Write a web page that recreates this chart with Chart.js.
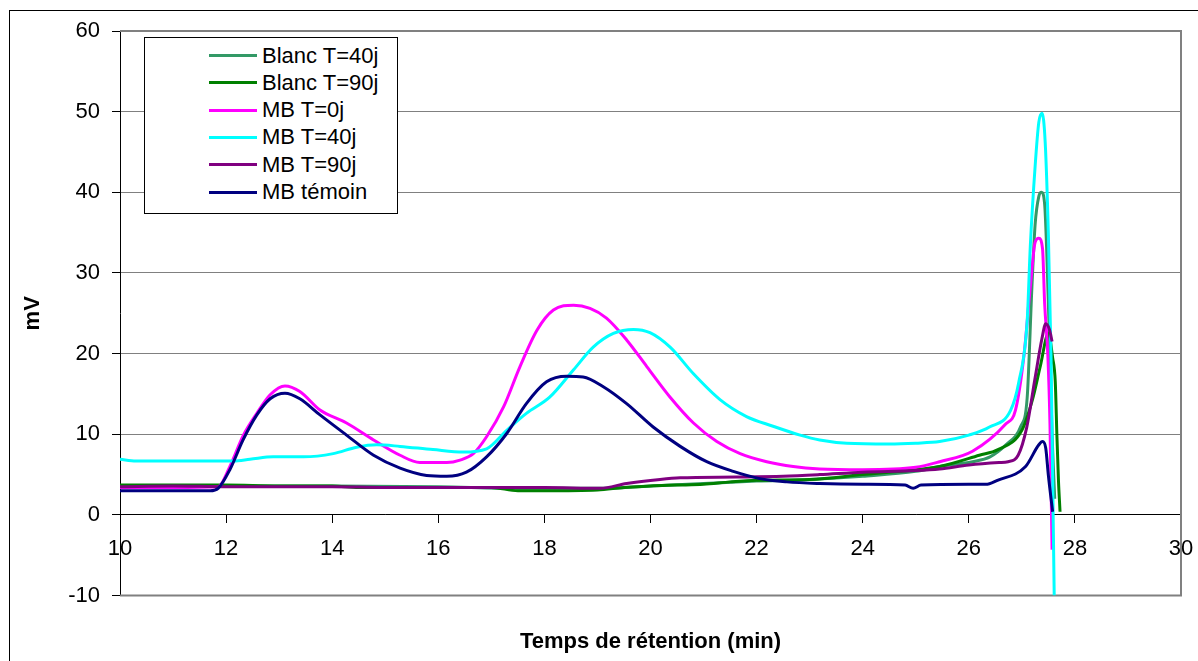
<!DOCTYPE html>
<html>
<head>
<meta charset="utf-8">
<script src="https://cdn.jsdelivr.net/npm/chart.js@4"></script>
<style>
  body { margin: 0; background: #fff; font-family: "Liberation Sans", Arial, sans-serif; }
  #cadre { position: absolute; left: 9px; top: 10px; width: 1189px; height: 651px;
           border-left: 1px solid #000; border-top: 1px solid #000; }
  #zone { position: absolute; left: 0; top: 0; width: 1188px; height: 650px; }
  #legende { position: absolute; left: 134px; top: 26px; width: 252px; height: 175px;
             border: 1px solid #000; background: #fff; }
  .ligne { position: absolute; left: 64px; width: 48px; height: 3px; }
  .texte { position: absolute; left: 117px; font-size: 22px; line-height: 26px; color: #000; white-space: nowrap; }
</style>
</head>
<body>
<div id="cadre">
  <div id="zone"><canvas id="chromato"></canvas></div>
  <div id="legende"></div>
</div>
<script>
// Chromatogrammes : temps de rétention (min) / signal (mV)
const noms = ['Blanc T=40j', 'Blanc T=90j', 'MB T=0j', 'MB T=40j', 'MB T=90j', 'MB témoin'];
const couleurs = ['#339966', '#008000', '#ff00ff', '#00ffff', '#800080', '#000080'];

const blanc40X = [10, 12, 14, 16, 17.5, 19, 20, 21, 22, 23, 24, 25, 25.45, 26.07, 26.4, 26.7, 26.98, 27.1, 27.19, 27.25, 27.32, 27.37, 27.43, 27.47, 27.52, 27.57, 27.62];
const blanc40Y = [3.6, 3.6, 3.6, 3.5, 3.3, 3.3, 3.6, 3.9, 4.2, 4.4, 4.8, 5.4, 6.0, 6.6, 7.2, 8.7, 11.0, 14.5, 28.3, 36, 39.5, 40, 38.5, 32.5, 22, 10, 2];

const blanc90X = [10, 11, 12, 13, 14, 14.5, 15, 16, 17, 17.5, 18, 19, 19.5, 20, 20.5, 21, 21.5, 22, 23, 24, 25, 25.45, 26.2, 26.55, 27.0, 27.2, 27.35, 27.5, 27.58, 27.63, 27.66, 27.69, 27.72];
const blanc90Y = [3.7, 3.7, 3.7, 3.6, 3.6, 3.4, 3.4, 3.4, 3.4, 3.0, 3.0, 3.1, 3.4, 3.6, 3.7, 3.8, 4.1, 4.3, 4.4, 5.0, 5.6, 6.0, 7.4, 8.1, 10.5, 14.3, 18.5, 22.5, 19.5, 16.5, 10, 4.3, 0.4];

const mb0X = [10, 11, 11.85, 12.07, 12.32, 12.58, 12.83, 13.11, 13.39, 13.77, 14.27, 14.78, 15.28, 15.65, 16.16, 16.41, 16.66, 16.91, 17.23, 17.54, 17.86, 18.17, 18.55, 18.86, 19.17, 19.55, 19.93, 20.37, 20.81, 21.25, 21.69, 22.19, 22.69, 23.19, 24, 25, 25.45, 26.07, 26.7, 26.88, 27.04, 27.16, 27.25, 27.32, 27.39, 27.43, 27.49, 27.53, 27.57];
const mb0Y = [3.4, 3.4, 3.5, 6.0, 9.8, 12.6, 14.9, 16.0, 15.3, 13.0, 11.4, 9.3, 7.4, 6.5, 6.5, 6.8, 7.6, 9.7, 13.4, 18.4, 22.9, 25.4, 26.0, 25.6, 24.4, 21.7, 18.4, 14.6, 11.4, 9.1, 7.6, 6.6, 6.0, 5.7, 5.6, 5.9, 6.6, 7.9, 11.3, 13.0, 19.8, 28.3, 33.8, 34.3, 33, 26.2, 19.8, 11.3, -4.3];

const mb40X = [10, 10.3, 12.14, 12.45, 12.89, 13.46, 14.02, 14.46, 14.84, 15.28, 15.9, 16.47, 16.91, 17.29, 17.66, 18.1, 18.55, 18.92, 19.3, 19.68, 19.99, 20.37, 20.81, 21.31, 21.81, 22.31, 22.82, 23.19, 23.7, 24.5, 25.0, 25.45, 26.0, 26.39, 26.79, 26.94, 27.1, 27.16, 27.25, 27.32, 27.38, 27.44, 27.5, 27.55, 27.58, 27.61];
const mb40Y = [6.9, 6.7, 6.7, 6.9, 7.2, 7.2, 7.6, 8.4, 8.7, 8.5, 8.1, 7.8, 8.2, 10.5, 12.6, 14.6, 18.0, 20.8, 22.5, 23.0, 22.6, 20.8, 17.5, 14.3, 12.2, 11.0, 9.9, 9.3, 8.9, 8.8, 8.9, 9.1, 9.9, 10.9, 13.0, 16.4, 24.0, 33.4, 43.2, 48.7, 49.8, 46.2, 34.7, 19.8, 4.9, -10];

const mb90X = [10, 11, 12, 13, 14, 15, 16, 17, 18, 19.05, 19.55, 20.18, 20.56, 21.62, 22.5, 23.19, 24, 25, 25.45, 26.0, 26.57, 26.74, 26.93, 27.09, 27.25, 27.38, 27.45, 27.52, 27.57];
const mb90Y = [3.5, 3.6, 3.5, 3.5, 3.5, 3.4, 3.4, 3.4, 3.4, 3.3, 3.9, 4.4, 4.6, 4.7, 4.8, 5.0, 5.3, 5.5, 5.7, 6.2, 6.5, 6.6, 7.4, 10.8, 17.0, 21.9, 23.7, 23, 21.5];

const temoinX = [10, 11.7, 11.85, 12.07, 12.32, 12.58, 12.83, 13.11, 13.39, 13.77, 14.27, 14.78, 15.28, 15.78, 16.16, 16.53, 16.91, 17.29, 17.66, 18.04, 18.42, 18.73, 19.11, 19.55, 20.05, 20.56, 21.06, 21.56, 22.06, 22.57, 23.19, 24, 24.8, 24.95, 25.1, 26.0, 26.32, 26.54, 27.07, 27.32, 27.39, 27.45, 27.5, 27.58];
const temoinY = [3.0, 3.0, 3.3, 5.6, 9.3, 12.4, 14.4, 15.1, 14.4, 12.4, 9.9, 7.4, 5.8, 4.9, 4.8, 5.3, 7.2, 10.1, 13.8, 16.5, 17.2, 17.1, 15.9, 13.8, 10.9, 8.5, 6.6, 5.4, 4.5, 4.1, 3.9, 3.8, 3.7, 3.3, 3.7, 3.8, 3.8, 4.3, 6.0, 8.7, 9.1, 8.3, 4.9, 0.4];

const xTicks = [10, 12, 14, 16, 18, 20, 22, 24, 26, 28, 30];
const yTicks = [-10, 0, 10, 20, 30, 40, 50, 60];

const series = [
  [blanc40X, blanc40Y], [blanc90X, blanc90Y], [mb0X, mb0Y],
  [mb40X, mb40Y], [mb90X, mb90Y], [temoinX, temoinY]
];

const police = '"Liberation Sans", Arial, sans-serif';

const datasets = series.map(([xs, ys], i) => ({
  label: noms[i],
  data: xs.map((x, k) => ({ x: x, y: ys[k] })),
  borderColor: couleurs[i],
  backgroundColor: couleurs[i],
  borderWidth: 3,
  pointRadius: 0,
  fill: false,
  cubicInterpolationMode: 'monotone',
  order: series.length - i   // la dernière série passe au-dessus
}));

// cadre gris de la zone de tracé (haut, droite, bas)
const cadrePlot = {
  id: 'cadrePlot',
  beforeDatasetsDraw(chart) {
    const { ctx, chartArea: a } = chart;
    ctx.save();
    ctx.strokeStyle = '#808080';
    ctx.lineWidth = 2;
    ctx.beginPath();
    ctx.moveTo(a.left, a.top);
    ctx.lineTo(a.right, a.top);
    ctx.lineTo(a.right, a.bottom);
    ctx.lineTo(a.left, a.bottom);
    ctx.stroke();
    ctx.restore();
  }
};

const chart = new Chart(document.getElementById('chromato'), {
  type: 'line',
  data: { datasets },
  options: {
    responsive: true,
    maintainAspectRatio: false,
    animation: false,
    layout: { padding: { top: 20, right: 17, bottom: 2, left: 0 } },
    plugins: {
      legend: { display: false },
      tooltip: { enabled: false },
      title: {
        display: true,
        text: 'Temps de rétention (min)',
        position: 'bottom',
        fullSize: false,
        color: '#000',
        font: { size: 22, weight: 'bold', family: police },
        padding: { top: 33, bottom: 4 }
      }
    },
    scales: {
      x: {
        type: 'linear',
        min: 10,
        max: 30,
        position: { y: 0 },
        afterFit: (s) => { s.height = 0; s.paddingLeft = 0; s.paddingRight = 0; },
        afterBuildTicks: (s) => { s.ticks = xTicks.map(v => ({ value: v })); },
        ticks: { color: '#000', font: { size: 22, family: police }, padding: 13, maxRotation: 0, autoSkip: false },
        grid: { drawOnChartArea: false, tickLength: 8, tickColor: '#000' },
        border: { color: '#000', width: 1 }
      },
      y: {
        min: -10,
        max: 60,
        afterFit: (s) => { s.width = 110; s.paddingTop = 0; s.paddingBottom = 0; },
        afterBuildTicks: (s) => { s.ticks = yTicks.map(v => ({ value: v })); },
        ticks: { color: '#000', font: { size: 22, family: police }, padding: 12 },
        grid: { color: '#808080', tickLength: 8, tickColor: '#000' },
        border: { color: '#000', width: 1 },
        title: {
          display: true,
          text: 'mV',
          color: '#000',
          font: { size: 22, weight: 'bold', family: police },
          padding: { top: 10, bottom: 0 }
        }
      }
    }
  },
  plugins: [cadrePlot]
});

// légende HTML dans l'angle haut gauche
const legende = document.getElementById('legende');
chart.data.datasets.forEach((ds, i) => {
  const yc = 17.5 + i * 27.3;
  const trait = document.createElement('div');
  trait.className = 'ligne';
  trait.style.top = (yc - 1.5) + 'px';
  trait.style.background = ds.borderColor;
  legende.appendChild(trait);
  const txt = document.createElement('div');
  txt.className = 'texte';
  txt.style.top = (yc - 13) + 'px';
  txt.textContent = ds.label;
  legende.appendChild(txt);
});
</script>
</body>
</html>
